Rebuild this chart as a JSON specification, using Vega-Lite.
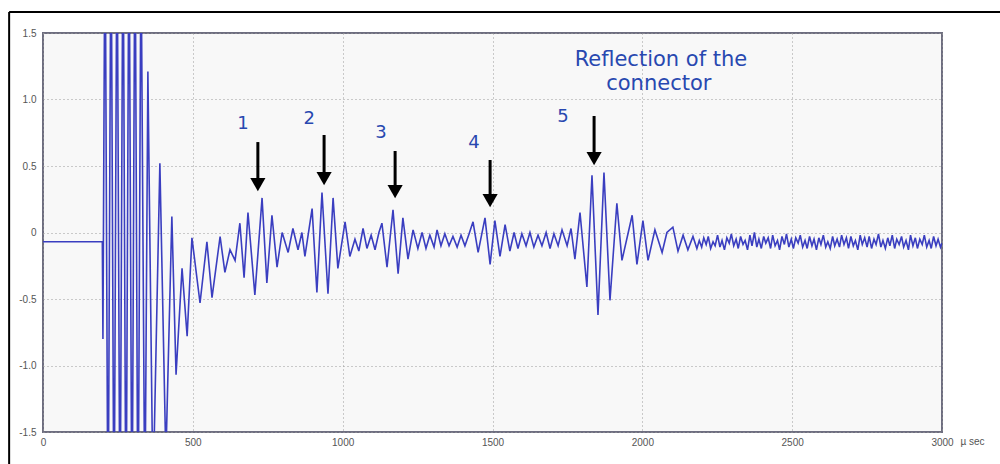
{
  "$schema": "https://vega.github.io/schema/vega-lite/v6.json",
  "width": 899,
  "height": 399,
  "autosize": "none",
  "padding": {"left": 43, "top": 33, "right": 58, "bottom": 32},
  "background": "white",
  "config": {
    "view": {"fill": "#f8f8f8", "stroke": "#6e6e80", "strokeWidth": 2},
    "axis": {
      "grid": true, "gridColor": "#9a9a9a", "gridDash": [1, 3], "gridWidth": 1,
      "domain": false, "ticks": false,
      "labelFont": "Liberation Sans", "labelFontSize": 10, "labelColor": "#555555"
    }
  },
  "datasets": {
    "signal": [
      {"t": 0, "v": -0.07}, {"t": 198, "v": -0.07}, {"t": 200, "v": -0.8},
      {"t": 207, "v": 2.5}, {"t": 217, "v": -2.5}, {"t": 227, "v": 2.5}, {"t": 237, "v": -2.5},
      {"t": 247, "v": 2.5}, {"t": 257, "v": -2.5}, {"t": 267, "v": 2.5}, {"t": 277, "v": -2.5},
      {"t": 287, "v": 2.5}, {"t": 297, "v": -2.5}, {"t": 307, "v": 2.5}, {"t": 317, "v": -2.5},
      {"t": 327, "v": 2.2}, {"t": 340, "v": -2.2}, {"t": 350, "v": 1.21}, {"t": 367, "v": -2.0},
      {"t": 390, "v": 0.52}, {"t": 410, "v": -1.7}, {"t": 430, "v": 0.12}, {"t": 444, "v": -1.07},
      {"t": 464, "v": -0.27}, {"t": 481, "v": -0.78}, {"t": 497, "v": -0.04}, {"t": 524, "v": -0.53},
      {"t": 547, "v": -0.07}, {"t": 564, "v": -0.49}, {"t": 591, "v": -0.03}, {"t": 607, "v": -0.3},
      {"t": 624, "v": -0.13}, {"t": 641, "v": -0.21}, {"t": 657, "v": 0.07}, {"t": 671, "v": -0.34},
      {"t": 684, "v": 0.15}, {"t": 707, "v": -0.47}, {"t": 731, "v": 0.26}, {"t": 747, "v": -0.38},
      {"t": 764, "v": 0.13}, {"t": 781, "v": -0.26}, {"t": 798, "v": 0.0}, {"t": 818, "v": -0.15},
      {"t": 834, "v": 0.03}, {"t": 851, "v": -0.13}, {"t": 864, "v": 0.0}, {"t": 874, "v": -0.18},
      {"t": 898, "v": 0.18}, {"t": 914, "v": -0.45}, {"t": 931, "v": 0.3}, {"t": 951, "v": -0.46},
      {"t": 968, "v": 0.26}, {"t": 984, "v": -0.27}, {"t": 1008, "v": 0.08}, {"t": 1024, "v": -0.18},
      {"t": 1041, "v": -0.05}, {"t": 1054, "v": -0.14}, {"t": 1068, "v": 0.03}, {"t": 1081, "v": -0.12},
      {"t": 1095, "v": -0.02}, {"t": 1108, "v": -0.13}, {"t": 1121, "v": 0.0}, {"t": 1131, "v": 0.07},
      {"t": 1148, "v": -0.26}, {"t": 1168, "v": 0.17}, {"t": 1185, "v": -0.31}, {"t": 1201, "v": 0.11},
      {"t": 1218, "v": -0.2}, {"t": 1235, "v": 0.02}, {"t": 1251, "v": -0.12}, {"t": 1265, "v": 0.0},
      {"t": 1278, "v": -0.12}, {"t": 1291, "v": -0.02}, {"t": 1305, "v": -0.11}, {"t": 1315, "v": 0.02},
      {"t": 1328, "v": -0.1}, {"t": 1341, "v": -0.01}, {"t": 1355, "v": -0.1}, {"t": 1368, "v": -0.03},
      {"t": 1382, "v": -0.11}, {"t": 1395, "v": -0.02}, {"t": 1408, "v": -0.1}, {"t": 1422, "v": -0.01},
      {"t": 1435, "v": 0.08}, {"t": 1452, "v": -0.15}, {"t": 1475, "v": 0.11}, {"t": 1492, "v": -0.24},
      {"t": 1508, "v": 0.09}, {"t": 1525, "v": -0.18}, {"t": 1542, "v": 0.06}, {"t": 1558, "v": -0.14},
      {"t": 1572, "v": 0.0}, {"t": 1585, "v": -0.12}, {"t": 1598, "v": -0.01}, {"t": 1612, "v": -0.1},
      {"t": 1625, "v": 0.0}, {"t": 1638, "v": -0.11}, {"t": 1652, "v": -0.02}, {"t": 1665, "v": -0.1},
      {"t": 1679, "v": 0.0}, {"t": 1692, "v": -0.12}, {"t": 1705, "v": -0.01}, {"t": 1719, "v": -0.1},
      {"t": 1732, "v": 0.02}, {"t": 1749, "v": -0.1}, {"t": 1762, "v": 0.03}, {"t": 1775, "v": -0.2},
      {"t": 1792, "v": 0.15}, {"t": 1815, "v": -0.41}, {"t": 1832, "v": 0.43}, {"t": 1852, "v": -0.62},
      {"t": 1872, "v": 0.45}, {"t": 1892, "v": -0.51}, {"t": 1915, "v": 0.22}, {"t": 1932, "v": -0.21},
      {"t": 1966, "v": 0.13}, {"t": 1982, "v": -0.24}, {"t": 2002, "v": 0.09}, {"t": 2019, "v": -0.21},
      {"t": 2042, "v": 0.02}, {"t": 2066, "v": -0.15}, {"t": 2082, "v": 0.0}, {"t": 2102, "v": 0.04},
      {"t": 2119, "v": -0.14}, {"t": 2136, "v": -0.02}, {"t": 2152, "v": -0.13}, {"t": 2169, "v": -0.03},
      {"t": 2182, "v": -0.12},
      {"t": 2190, "v": -0.06}, {"t": 2198, "v": -0.11}, {"t": 2205, "v": -0.04}, {"t": 2213, "v": -0.09},
      {"t": 2220, "v": -0.03}, {"t": 2228, "v": -0.12}, {"t": 2236, "v": -0.07}, {"t": 2243, "v": -0.1},
      {"t": 2251, "v": -0.02}, {"t": 2259, "v": -0.11}, {"t": 2266, "v": -0.06}, {"t": 2274, "v": -0.13},
      {"t": 2282, "v": -0.04}, {"t": 2290, "v": -0.08}, {"t": 2297, "v": -0.01}, {"t": 2305, "v": -0.1},
      {"t": 2313, "v": -0.05}, {"t": 2320, "v": -0.12}, {"t": 2328, "v": -0.03}, {"t": 2336, "v": -0.09},
      {"t": 2343, "v": -0.06}, {"t": 2351, "v": -0.13}, {"t": 2359, "v": -0.02}, {"t": 2366, "v": -0.1},
      {"t": 2374, "v": 0.0}, {"t": 2382, "v": -0.11}, {"t": 2389, "v": -0.05}, {"t": 2397, "v": -0.12},
      {"t": 2405, "v": -0.03}, {"t": 2412, "v": -0.08}, {"t": 2420, "v": -0.04}, {"t": 2428, "v": -0.12},
      {"t": 2435, "v": -0.02}, {"t": 2443, "v": -0.1}, {"t": 2451, "v": -0.06}, {"t": 2458, "v": -0.13},
      {"t": 2466, "v": -0.03}, {"t": 2474, "v": -0.09}, {"t": 2481, "v": -0.01}, {"t": 2489, "v": -0.11},
      {"t": 2497, "v": -0.05}, {"t": 2504, "v": -0.12}, {"t": 2512, "v": -0.04}, {"t": 2520, "v": -0.08},
      {"t": 2527, "v": -0.02}, {"t": 2535, "v": -0.11}, {"t": 2543, "v": -0.06}, {"t": 2550, "v": -0.12},
      {"t": 2558, "v": -0.03}, {"t": 2566, "v": -0.1}, {"t": 2573, "v": -0.05}, {"t": 2581, "v": -0.13},
      {"t": 2589, "v": -0.04}, {"t": 2596, "v": -0.09}, {"t": 2604, "v": -0.02}, {"t": 2612, "v": -0.11},
      {"t": 2619, "v": -0.07}, {"t": 2627, "v": -0.12}, {"t": 2635, "v": -0.03}, {"t": 2642, "v": -0.1},
      {"t": 2650, "v": -0.05}, {"t": 2658, "v": -0.11}, {"t": 2665, "v": -0.02}, {"t": 2673, "v": -0.09},
      {"t": 2681, "v": -0.04}, {"t": 2688, "v": -0.12}, {"t": 2696, "v": -0.03}, {"t": 2704, "v": -0.1},
      {"t": 2711, "v": -0.06}, {"t": 2719, "v": -0.13}, {"t": 2727, "v": -0.02}, {"t": 2734, "v": -0.09},
      {"t": 2742, "v": -0.04}, {"t": 2750, "v": -0.11}, {"t": 2757, "v": -0.03}, {"t": 2765, "v": -0.12},
      {"t": 2773, "v": -0.05}, {"t": 2780, "v": -0.09}, {"t": 2788, "v": -0.01}, {"t": 2796, "v": -0.11},
      {"t": 2803, "v": -0.06}, {"t": 2811, "v": -0.12}, {"t": 2819, "v": -0.04}, {"t": 2826, "v": -0.1},
      {"t": 2834, "v": -0.02}, {"t": 2842, "v": -0.12}, {"t": 2849, "v": -0.05}, {"t": 2857, "v": -0.09},
      {"t": 2865, "v": -0.03}, {"t": 2872, "v": -0.11}, {"t": 2880, "v": -0.06}, {"t": 2888, "v": -0.13},
      {"t": 2895, "v": -0.02}, {"t": 2903, "v": -0.1}, {"t": 2911, "v": -0.04}, {"t": 2918, "v": -0.12},
      {"t": 2926, "v": -0.05}, {"t": 2934, "v": -0.09}, {"t": 2941, "v": -0.02}, {"t": 2949, "v": -0.11},
      {"t": 2957, "v": -0.06}, {"t": 2964, "v": -0.12}, {"t": 2972, "v": -0.03}, {"t": 2980, "v": -0.1},
      {"t": 2987, "v": -0.05}, {"t": 2995, "v": -0.11}, {"t": 3000, "v": -0.08}
    ],
    "arrows": [
      {"t": 717, "v": 0.68, "v2": 0.36},
      {"t": 938, "v": 0.733, "v2": 0.405},
      {"t": 1175, "v": 0.613, "v2": 0.307},
      {"t": 1492, "v": 0.545, "v2": 0.24},
      {"t": 1839, "v": 0.876, "v2": 0.555}
    ],
    "numbers": [
      {"t": 667, "v": 0.816, "label": "1"},
      {"t": 888, "v": 0.853, "label": "2"},
      {"t": 1128, "v": 0.748, "label": "3"},
      {"t": 1438, "v": 0.673, "label": "4"},
      {"t": 1735, "v": 0.868, "label": "5"}
    ],
    "caption": [
      {"t": 2062, "v": 1.297, "label": "Reflection of the"},
      {"t": 2055, "v": 1.117, "label": "connector"}
    ],
    "frameLeft": [{"t": -113, "v": 1.658, "v2": -1.8}],
    "frameTop": [{"t": -113, "t2": 3200, "v": 1.658}]
  },
  "layer": [
    {
      "data": {"name": "signal"},
      "mark": {"type": "line", "color": "#3a3ec0", "strokeWidth": 1.6, "clip": true},
      "encoding": {
        "x": {"field": "t", "type": "quantitative",
              "scale": {"domain": [0, 3000], "nice": false, "zero": false},
              "axis": {"values": [0, 500, 1000, 1500, 2000, 2500, 3000], "labelFlush": false, "format": "d",
                       "labelPadding": 5, "title": "µ sec", "titleX": 917, "titleY": 9,
                       "titleAlign": "left", "titleBaseline": "middle", "titleAnchor": null,
                       "titleFont": "Liberation Sans", "titleFontSize": 10, "titleFontWeight": "normal",
                       "titleColor": "#555555"}},
        "y": {"field": "v", "type": "quantitative",
              "scale": {"domain": [-1.5, 1.5], "nice": false, "zero": false},
              "axis": {"values": [-1.5, -1, -0.5, 0, 0.5, 1, 1.5], "labelPadding": 7, "title": null,
                       "labelExpr": "datum.value == 0 ? '0' : (datum.value < 0 ? '-' : '') + format(abs(datum.value), '.1f')"}}
      }
    },
    {
      "data": {"name": "arrows"},
      "mark": {"type": "rule", "color": "black", "strokeWidth": 3},
      "encoding": {
        "x": {"field": "t", "type": "quantitative"},
        "y": {"field": "v", "type": "quantitative"},
        "y2": {"field": "v2"}
      }
    },
    {
      "data": {"name": "arrows"},
      "mark": {"type": "point", "shape": "triangle-down", "filled": true, "color": "black", "size": 230, "opacity": 1},
      "encoding": {
        "x": {"field": "t", "type": "quantitative"},
        "y": {"field": "v2", "type": "quantitative"}
      }
    },
    {
      "data": {"name": "numbers"},
      "mark": {"type": "text", "font": "DejaVu Sans", "fontSize": 18, "color": "#2848b0", "align": "center", "baseline": "middle"},
      "encoding": {
        "x": {"field": "t", "type": "quantitative"},
        "y": {"field": "v", "type": "quantitative"},
        "text": {"field": "label"}
      }
    },
    {
      "data": {"name": "caption"},
      "mark": {"type": "text", "font": "DejaVu Sans", "fontSize": 21, "color": "#2848b0", "align": "center", "baseline": "middle"},
      "encoding": {
        "x": {"field": "t", "type": "quantitative"},
        "y": {"field": "v", "type": "quantitative"},
        "text": {"field": "label"}
      }
    },
    {
      "data": {"name": "frameLeft"},
      "mark": {"type": "rule", "color": "black", "strokeWidth": 2, "clip": false},
      "encoding": {
        "x": {"field": "t", "type": "quantitative"},
        "y": {"field": "v", "type": "quantitative"},
        "y2": {"field": "v2"}
      }
    },
    {
      "data": {"name": "frameTop"},
      "mark": {"type": "rule", "color": "black", "strokeWidth": 2, "clip": false},
      "encoding": {
        "x": {"field": "t", "type": "quantitative"},
        "x2": {"field": "t2"},
        "y": {"field": "v", "type": "quantitative"}
      }
    }
  ]
}
